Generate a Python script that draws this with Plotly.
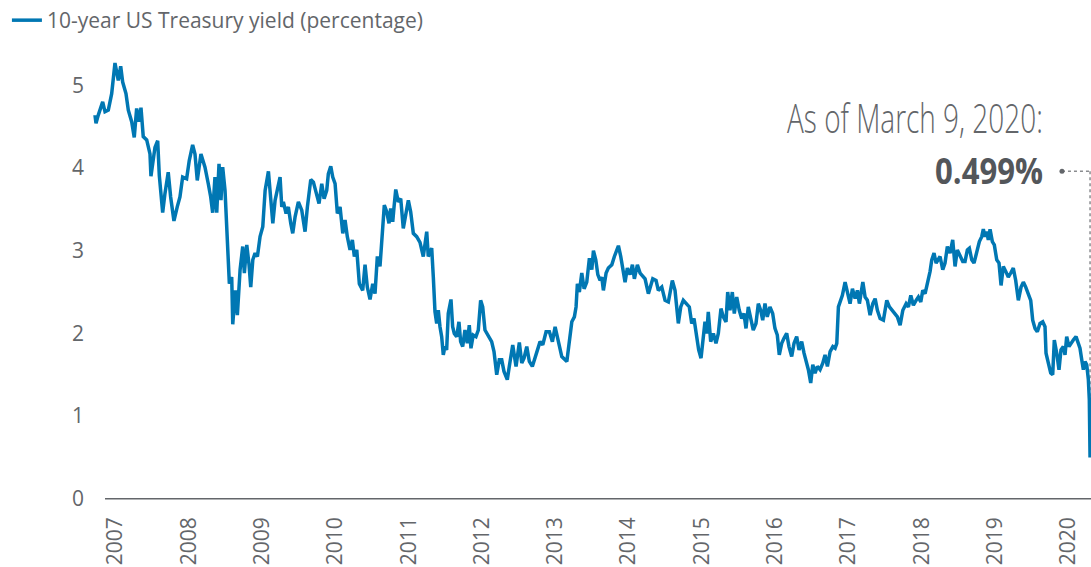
import plotly.graph_objects as go
from datetime import datetime

# ---- data (decimal years, yield in %) ----
years_a = [2006.720, 2006.734, 2006.765, 2006.825, 2006.857, 2006.902, 2006.948, 2006.993, 2007.038, 2007.071,
           2007.098, 2007.143, 2007.175, 2007.221, 2007.256, 2007.289, 2007.321, 2007.348, 2007.379, 2007.426,
           2007.471, 2007.484, 2007.539, 2007.576, 2007.598, 2007.644, 2007.675, 2007.720, 2007.753, 2007.798,
           2007.843, 2007.880, 2007.917, 2007.971, 2008.007, 2008.053, 2008.085, 2008.116, 2008.166, 2008.221,
           2008.266, 2008.299, 2008.326, 2008.357, 2008.381, 2008.412, 2008.439, 2008.462, 2008.494, 2008.517]
yields_a = [4.64, 4.54, 4.64, 4.80, 4.68, 4.70, 4.90, 5.27, 5.06, 5.23,
            5.04, 4.90, 4.70, 4.56, 4.37, 4.72, 4.56, 4.73, 4.38, 4.34,
            4.17, 3.90, 4.25, 4.33, 3.91, 3.46, 3.69, 3.95, 3.65, 3.36,
            3.53, 3.65, 3.89, 3.87, 4.09, 4.28, 4.17, 3.85, 4.17, 4.01,
            3.81, 3.65, 3.46, 3.89, 3.46, 4.05, 3.61, 4.01, 3.73, 3.33]

years_b = [2008.531, 2008.553, 2008.585, 2008.599, 2008.634, 2008.662, 2008.699, 2008.735, 2008.757, 2008.790,
           2008.821, 2008.844, 2008.872, 2008.903, 2008.935, 2008.971, 2009.008, 2009.040, 2009.085, 2009.108,
           2009.145, 2009.176, 2009.207, 2009.244, 2009.267, 2009.289, 2009.326, 2009.357, 2009.390, 2009.417,
           2009.449, 2009.494, 2009.540, 2009.585, 2009.617, 2009.663, 2009.699, 2009.745, 2009.776, 2009.813,
           2009.845, 2009.881, 2009.903, 2009.936, 2009.963, 2009.995, 2010.026, 2010.063, 2010.100, 2010.131,
           2010.162, 2010.199, 2010.231, 2010.258, 2010.291, 2010.326, 2010.372, 2010.404, 2010.435, 2010.472,
           2010.509, 2010.540, 2010.572, 2010.608, 2010.645, 2010.667, 2010.700, 2010.731, 2010.754, 2010.782,
           2010.800, 2010.823, 2010.858, 2010.891, 2010.926, 2010.963, 2010.995, 2011.027, 2011.063, 2011.109,
           2011.154, 2011.199, 2011.246, 2011.267, 2011.314, 2011.336, 2011.359, 2011.382, 2011.404, 2011.427]
yields_b = [3.01, 2.60, 2.68, 2.11, 2.52, 2.22, 2.77, 3.05, 2.73, 3.07,
            2.83, 2.56, 2.89, 2.97, 2.93, 3.17, 3.29, 3.73, 3.96, 3.73,
            3.33, 3.61, 3.73, 3.89, 3.53, 3.59, 3.45, 3.53, 3.33, 3.21,
            3.41, 3.59, 3.49, 3.23, 3.53, 3.86, 3.83, 3.65, 3.57, 3.81,
            3.63, 3.73, 3.93, 4.02, 3.89, 3.81, 3.45, 3.53, 3.21, 3.37,
            3.17, 3.01, 3.13, 2.93, 3.01, 2.60, 2.52, 2.83, 2.56, 2.41,
            2.60, 2.48, 2.93, 2.81, 3.25, 3.55, 3.47, 3.33, 3.51, 3.35,
            3.53, 3.74, 3.59, 3.63, 3.27, 3.49, 3.61, 3.47, 3.21, 3.17,
            3.10, 2.93, 3.23, 2.93, 3.03, 2.68, 2.26, 2.12, 2.28, 2.08]

years_c = [2011.450, 2011.472, 2011.495, 2011.518, 2011.540, 2011.577, 2011.600, 2011.622, 2011.655, 2011.686,
           2011.709, 2011.737, 2011.768, 2011.800, 2011.827, 2011.850, 2011.881, 2011.918, 2011.950, 2011.982,
           2012.010, 2012.041, 2012.086, 2012.132, 2012.164, 2012.201, 2012.236, 2012.269, 2012.300, 2012.345,
           2012.372, 2012.419, 2012.464, 2012.509, 2012.542, 2012.573, 2012.610, 2012.645, 2012.686, 2012.723,
           2012.754, 2012.791, 2012.828, 2012.873, 2012.918, 2012.959, 2012.996, 2013.041, 2013.087, 2013.156,
           2013.187, 2013.224, 2013.259, 2013.282, 2013.300, 2013.327, 2013.360, 2013.392, 2013.428, 2013.464,
           2013.497, 2013.519, 2013.551, 2013.579, 2013.610, 2013.633, 2013.655, 2013.692, 2013.723, 2013.770,
           2013.805, 2013.838, 2013.860, 2013.892, 2013.920, 2013.951, 2013.982, 2014.019, 2014.051, 2014.078,
           2014.119, 2014.156]
yields_c = [1.96, 1.74, 1.84, 1.80, 2.24, 2.41, 2.08, 2.00, 1.96, 2.14,
            1.90, 1.84, 2.04, 1.88, 2.10, 1.82, 1.98, 1.96, 2.04, 2.40,
            2.32, 2.04, 1.98, 1.90, 1.78, 1.50, 1.68, 1.68, 1.54, 1.44,
            1.60, 1.86, 1.60, 1.89, 1.64, 1.70, 1.84, 1.66, 1.60, 1.70,
            1.80, 1.90, 1.86, 2.02, 2.02, 1.90, 2.08, 1.92, 1.72, 1.66,
            1.88, 2.14, 2.20, 2.32, 2.60, 2.50, 2.73, 2.54, 2.62, 2.91,
            2.77, 3.00, 2.89, 2.71, 2.64, 2.68, 2.52, 2.73, 2.79, 2.83,
            2.93, 3.03, 3.06, 2.93, 2.77, 2.62, 2.79, 2.71, 2.83, 2.66,
            2.83, 2.73]

years_d = [2014.224, 2014.269, 2014.329, 2014.374, 2014.405, 2014.452, 2014.497, 2014.542, 2014.596, 2014.633,
           2014.678, 2014.711, 2014.746, 2014.793, 2014.828, 2014.861, 2014.892, 2014.929, 2014.956, 2014.988,
           2015.011, 2015.042, 2015.066, 2015.087, 2015.120, 2015.156, 2015.192, 2015.224, 2015.260, 2015.292,
           2015.329, 2015.352, 2015.383, 2015.415, 2015.442, 2015.475, 2015.510, 2015.543, 2015.574, 2015.602,
           2015.633, 2015.670, 2015.701, 2015.738, 2015.770, 2015.802, 2015.830, 2015.861, 2015.892, 2015.929,
           2015.966, 2015.997, 2016.029, 2016.056, 2016.089, 2016.120, 2016.157, 2016.188, 2016.225, 2016.257,
           2016.293, 2016.325, 2016.361, 2016.393, 2016.430, 2016.452, 2016.484, 2016.512, 2016.543, 2016.574,
           2016.611, 2016.648, 2016.679, 2016.711, 2016.748, 2016.785, 2016.816, 2016.839, 2016.861, 2016.884,
           2016.915, 2016.952, 2016.984, 2017.020, 2017.052, 2017.089, 2017.120, 2017.147]
yields_d = [2.66, 2.48, 2.66, 2.64, 2.52, 2.56, 2.40, 2.38, 2.64, 2.52,
            2.12, 2.32, 2.40, 2.36, 2.32, 2.12, 2.18, 1.96, 1.80, 1.70,
            1.92, 2.14, 2.00, 2.26, 1.90, 2.00, 1.88, 2.00, 2.30, 2.20,
            2.14, 2.50, 2.28, 2.50, 2.24, 2.44, 2.28, 2.18, 2.24, 2.06,
            2.32, 2.16, 2.04, 2.12, 2.36, 2.28, 2.16, 2.36, 2.20, 2.32,
            2.24, 2.06, 1.98, 1.74, 1.88, 1.94, 2.00, 1.84, 1.72, 1.88,
            1.96, 1.80, 1.90, 1.76, 1.64, 1.56, 1.40, 1.62, 1.52, 1.60,
            1.56, 1.64, 1.74, 1.60, 1.78, 1.84, 1.82, 1.88, 2.32, 2.38,
            2.46, 2.62, 2.48, 2.36, 2.54, 2.42, 2.52, 2.36]

years_e = [2017.194, 2017.225, 2017.256, 2017.293, 2017.330, 2017.362, 2017.393, 2017.430, 2017.475, 2017.521,
           2017.557, 2017.590, 2017.634, 2017.666, 2017.703, 2017.740, 2017.785, 2017.816, 2017.849, 2017.884,
           2017.921, 2017.952, 2017.985, 2018.012, 2018.044, 2018.075, 2018.112, 2018.135, 2018.166, 2018.194,
           2018.225, 2018.248, 2018.285, 2018.316, 2018.348, 2018.385, 2018.421, 2018.453, 2018.484, 2018.521,
           2018.558, 2018.589, 2018.621, 2018.648, 2018.681, 2018.712, 2018.749, 2018.785, 2018.817, 2018.839,
           2018.862, 2018.885, 2018.907, 2018.931, 2018.962, 2018.989, 2019.022, 2019.053, 2019.081, 2019.112,
           2019.145, 2019.180, 2019.213, 2019.248, 2019.281, 2019.317, 2019.354, 2019.385, 2019.418, 2019.453,
           2019.486, 2019.513, 2019.545, 2019.576, 2019.613, 2019.650, 2019.681, 2019.695, 2019.726, 2019.759,
           2019.786, 2019.808, 2019.841, 2019.872, 2019.899, 2019.931, 2019.954, 2019.977, 2020.008, 2020.035,
           2020.067, 2020.104, 2020.135, 2020.158, 2020.182, 2020.204, 2020.227, 2020.250, 2020.272, 2020.285,
           2020.295]
yields_e = [2.62, 2.44, 2.40, 2.22, 2.36, 2.42, 2.28, 2.18, 2.16, 2.40,
            2.32, 2.28, 2.24, 2.20, 2.10, 2.28, 2.36, 2.32, 2.46, 2.34,
            2.40, 2.44, 2.38, 2.52, 2.48, 2.60, 2.75, 2.89, 2.97, 2.85,
            2.89, 2.93, 2.77, 2.85, 3.05, 2.97, 3.13, 2.81, 3.01, 2.93,
            2.87, 2.87, 3.01, 3.03, 2.89, 2.85, 2.97, 3.11, 3.17, 3.26,
            3.17, 3.23, 3.13, 3.26, 3.11, 3.07, 2.89, 2.85, 2.58, 2.81,
            2.75, 2.68, 2.73, 2.79, 2.64, 2.40, 2.56, 2.62, 2.56, 2.46,
            2.40, 2.16, 2.06, 2.02, 2.12, 2.14, 2.08, 1.76, 1.64, 1.52,
            1.50, 1.92, 1.76, 1.56, 1.80, 1.84, 1.74, 1.96, 1.84, 1.88,
            1.92, 1.96, 1.88, 1.82, 1.68, 1.56, 1.66, 1.62, 1.44, 1.20,
            0.499]

tick_years = list(range(2007, 2021))
series_name = "10-year US Treasury yield (percentage)"
as_of_label = "As of March 9, 2020:"

years = years_a + years_b + years_c + years_d + years_e
yields = yields_a + yields_b + yields_c + yields_d + yields_e
assert len(years) == len(yields)


def to_date(y):
    yr = int(y // 1)
    start = datetime(yr, 1, 1)
    end = datetime(yr + 1, 1, 1)
    return start + (end - start) * (y - yr)


dates = [to_date(y) for y in years]
last_date, last_val = dates[-1], yields[-1]

BLUE = "#0077b3"
GRAY = "#63666a"
DARK = "#53565a"
FONT = "Open Sans, sans-serif"
label_level = 3.96

fig = go.Figure()
fig.add_trace(go.Scatter(x=dates, y=yields, mode="lines", name=series_name,
                         line=dict(color=BLUE, width=3.5), hoverinfo="x+y"))

fig.update_layout(
    width=1091, height=567, autosize=False,
    margin=dict(l=90, r=0, t=44, b=60, autoexpand=False),
    paper_bgcolor="white", plot_bgcolor="white",
    font=dict(family=FONT, size=21, color=GRAY),
    showlegend=True,
    legend=dict(x=-0.083, xanchor="left", y=1.095, yanchor="top",
                font=dict(family=FONT, size=21, color=GRAY),
                bgcolor="rgba(0,0,0,0)", borderwidth=0),
    xaxis=dict(type="date", range=[to_date(2006.652), to_date(2020.308)],
               tickvals=[to_date(y) for y in tick_years],
               ticktext=[str(y) for y in tick_years],
               tickangle=-90, showgrid=False, zeroline=False, showline=False,
               ticks="", ticklabelstandoff=5,
               tickfont=dict(family=FONT, size=21, color=GRAY)),
    yaxis=dict(range=[-0.1, 5.5], tickvals=[0, 1, 2, 3, 4, 5],
               showgrid=False, zeroline=False, showline=False, ticks="",
               ticklabelstandoff=5,
               tickfont=dict(family=FONT, size=21, color=GRAY)),
)

# baseline
fig.add_shape(type="line", xref="paper", yref="y", x0=0.015, x1=1.0, y0=0, y1=0,
              line=dict(color=GRAY, width=1.5), layer="below")
# dotted leader lines
fig.add_shape(type="line", xref="paper", yref="y", x0=0.971, x1=0.9992,
              y0=label_level, y1=label_level, line=dict(color="#8a8c8f", width=1.5, dash="dot"))
fig.add_shape(type="line", xref="x", yref="y", x0=last_date, x1=last_date,
              y0=label_level, y1=last_val, line=dict(color="#8a8c8f", width=1.5, dash="dot"),
              layer="below")
fig.add_shape(type="circle", xref="paper", yref="y", xsizemode="pixel", ysizemode="pixel",
              xanchor=0.971, yanchor=label_level, x0=-2.5, x1=2.5, y0=-2.5, y1=2.5,
              fillcolor=GRAY, line=dict(width=0))

fig.add_annotation(xref="paper", yref="y", x=0.954, y=4.61, xanchor="right", yanchor="middle",
                   align="right", text=as_of_label, showarrow=False,
                   font=dict(family=FONT, size=40, weight=300, color=GRAY))
fig.add_annotation(xref="paper", yref="y", x=0.954, y=3.976, xanchor="right", yanchor="middle",
                   align="right", text=f"{last_val:.3f}%", showarrow=False,
                   font=dict(family=FONT, size=36, weight="bold", color=DARK))

# page reset + condensed look of the call-out text (the original uses a condensed face):
# squeeze each call-out horizontally about its right edge.
post = """
document.body.style.margin = '0';
var gd = document.getElementById('{plot_id}');
var widths = [256, 108];
var t = gd.querySelectorAll('g.annotation text.annotation-text');
for (var i = 0; i < t.length && i < widths.length; i++) {
  var b = t[i].getBBox();
  if (!b.width) continue;
  var s = widths[i] / b.width;
  var xr = b.x + b.width;
  var prev = t[i].getAttribute('transform') || '';
  t[i].setAttribute('transform', prev + ' translate(' + (xr * (1 - s)) + ',0) scale(' + s + ',1)');
}
"""

fig.write_html("out.html", post_script=post, config={"displayModeBar": False})
